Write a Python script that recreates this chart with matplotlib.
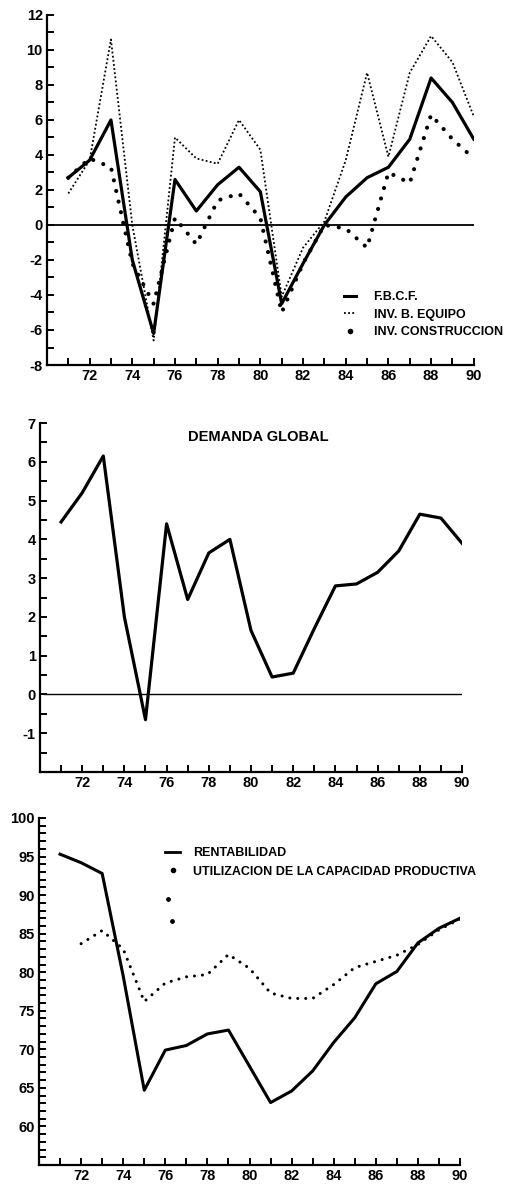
# three stacked panels: inversion, demanda global, rentabilidad / utilizacion capacidad

import numpy as np
import matplotlib.pyplot as plt
from matplotlib.lines import Line2D

plt.rcParams['font.family'] = ['Liberation Sans', 'DejaVu Sans']
plt.rcParams['font.weight'] = 'bold'
plt.rcParams['axes.unicode_minus'] = False

years = np.arange(71, 91)

# panel 1 - inversion (% variacion)
fbcf = [2.7, 3.7, 6.0, -2.0, -6.2, 2.6, 0.8, 2.3, 3.3, 1.9,
        -4.5, -2.2, 0.0, 1.6, 2.7, 3.3, 4.9, 8.4, 7.0, 4.9]
inv_equipo = [1.8, 3.7, 10.6, 0.0, -6.6, 5.0, 3.8, 3.5, 6.0, 4.3,
              -4.1, -1.3, 0.2, 3.7, 8.7, 3.9, 8.7, 10.8, 9.3, 6.2]
inv_construccion = [2.7, 3.8, 3.3, -2.2, -4.5, 0.4, -1.1, 1.4, 1.8, 0.4,
                    -5.0, -2.2, 0.0, -0.2, -1.3, 3.0, 2.4, 6.3, 4.9, 3.8]

# panel 2 - demanda global
demanda = [4.45, 5.2, 6.15, 2.0, -0.65, 4.4, 2.45, 3.65, 4.0, 1.65,
           0.45, 0.55, 1.7, 2.8, 2.85, 3.15, 3.7, 4.65, 4.55, 3.9]

# panel 3 - rentabilidad y utilizacion de la capacidad
rentabilidad = [95.3, 94.2, 92.8, 79.5, 64.7, 69.9, 70.5, 72.0, 72.5, 67.8,
                63.1, 64.6, 67.2, 70.9, 74.1, 78.5, 80.1, 83.8, 85.7, 87.0]
util_years = np.arange(72, 91)
utilizacion = [83.7, 85.4, 83.0, 76.2, 78.6, 79.4, 79.7, 82.3, 80.5,
               77.3, 76.6, 76.6, 78.4, 80.6, 81.4, 82.2, 83.6, 85.5, 86.9]
stray_x = [76.15, 76.3]
stray_y = [89.5, 86.7]

tick_fs = 10.5
leg_fs = 9
big_dots = (0, (0.01, 2.6))


def style_axis(ax, ymin, ymax, major, minor):
    ax.set_xlim(70, 90)
    ax.set_ylim(ymin, ymax)
    for s in ['top', 'right']:
        ax.spines[s].set_visible(False)
    for s in ['left', 'bottom']:
        ax.spines[s].set_linewidth(1.6)
    ax.set_xticks(np.arange(72, 91, 2))
    ax.set_xticks(np.arange(71, 90, 2), minor=True)
    ax.set_yticks(major)
    ax.set_yticks(minor, minor=True)
    ax.tick_params(which='both', direction='in', length=5, width=1.4)
    ax.tick_params(axis='both', labelsize=tick_fs, pad=3)


fig = plt.figure(figsize=(5.1, 11.87), dpi=100)

# panel 1
ax1 = fig.add_axes([0.092, 0.6925, 0.837, 0.2949])
ax1.axhline(0, color='black', lw=1.3)
ax1.plot(years, fbcf, color='black', lw=2.3)
ax1.plot(years, inv_equipo, color='black', lw=1.3, linestyle=(0, (1, 1.3)))
ax1.plot(years, inv_construccion, color='black', lw=3, linestyle=big_dots,
         dash_capstyle='round')
style_axis(ax1, -8, 12, np.arange(-8, 13, 2), np.arange(-7, 12, 2))
h1 = [Line2D([], [], color='black', lw=2.2),
      Line2D([], [], color='black', lw=1.3, linestyle=(0, (1, 1.3))),
      Line2D([], [], color='black', lw=0, marker='o', markersize=3)]
ax1.legend(h1, ['F.B.C.F.', 'INV. B. EQUIPO', 'INV. CONSTRUCCION'],
           loc='upper left', bbox_to_anchor=(0.695, 0.21), frameon=False,
           fontsize=leg_fs, handlelength=1.0, handletextpad=1.4,
           labelspacing=0.42, borderpad=0, borderaxespad=0)

# panel 2
ax2 = fig.add_axes([0.0784, 0.3496, 0.8275, 0.294])
ax2.axhline(0, color='black', lw=1.0, xmin=0.01)
ax2.plot(years, demanda, color='black', lw=2.3)
style_axis(ax2, -2, 7, np.arange(-1, 8, 1), np.arange(-2, 7.01, 0.5))
ax2.text(0.517, 0.96, 'DEMANDA GLOBAL', transform=ax2.transAxes,
         ha='center', va='center', fontsize=10.5)

# panel 3
ax3 = fig.add_axes([0.0765, 0.0185, 0.8255, 0.2924])
ax3.plot(years, rentabilidad, color='black', lw=2.2)
ax3.plot(util_years, utilizacion, color='black', lw=2.2, linestyle=big_dots,
         dash_capstyle='round')
ax3.scatter(stray_x, stray_y, color='black', s=6)
style_axis(ax3, 55, 100, np.arange(60, 101, 5), np.arange(55, 101, 1))
h3 = [Line2D([], [], color='black', lw=2.0),
      Line2D([], [], color='black', lw=0, marker='o', markersize=3)]
ax3.legend(h3, ['RENTABILIDAD', 'UTILIZACION DE LA CAPACIDAD PRODUCTIVA'],
           loc='upper left', bbox_to_anchor=(0.30, 0.915), frameon=False,
           fontsize=leg_fs, handlelength=1.2, handletextpad=1.0,
           labelspacing=0.5, borderpad=0, borderaxespad=0)

plt.savefig('out.png', dpi=100)
